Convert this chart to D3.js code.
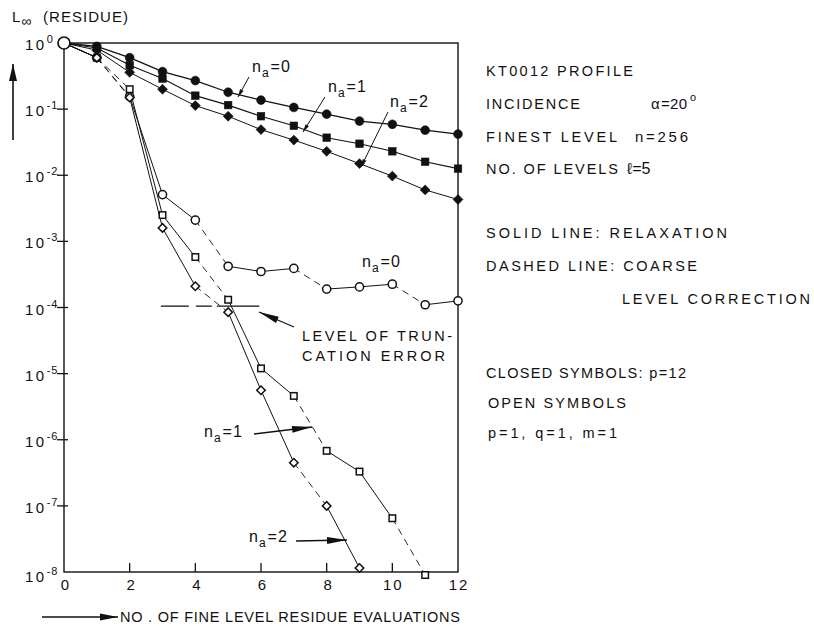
<!DOCTYPE html>
<html>
<head>
<meta charset="utf-8">
<script src="https://cdn.jsdelivr.net/npm/d3@7"></script>
<style>
  body { margin: 0; background: #fff; }
  svg { display: block; }
  text { font-family: "Liberation Sans", Arial, Helvetica, sans-serif; fill: #111; }
</style>
</head>
<body>
<svg id="chart" width="814" height="626"></svg>
<script>
// Number of fine level residue evaluations
const evaluations = [0, 1, 2, 3, 4, 5, 6, 7, 8, 9, 10, 11, 12];

// Closed symbols (p = 12): L-infinity residue per evaluation
const closedNa0 = [1, 0.89, 0.60, 0.37, 0.27, 0.18, 0.137, 0.106, 0.084, 0.066, 0.059, 0.048, 0.042];
const closedNa1 = [1, 0.84, 0.46, 0.29, 0.16, 0.115, 0.078, 0.056, 0.037, 0.030, 0.023, 0.016, 0.0126];
const closedNa2 = [1, 0.78, 0.36, 0.20, 0.113, 0.078, 0.049, 0.034, 0.023, 0.015, 0.0097, 0.006, 0.0043];

// Open symbols (p = 1, q = 1, m = 1)
const openNa0 = [1, 0.6, 0.155, 0.0051, 0.0021, 0.00042, 0.00035, 0.00039, 0.00019, 0.000205, 0.000225, 0.00011, 0.000126];
const openNa1 = [1, 0.6, 0.2, 0.0025, 0.00058, 0.000131, 1.2e-5, 4.6e-6, 6.8e-7, 3.3e-7, 6.5e-8, 0.9e-8];
const openNa2 = [1, 0.6, 0.15, 0.0016, 0.00021, 0.000085, 5.6e-6, 4.5e-7, 1.0e-7, 1.15e-8];

// Step between successive evaluations of the open-symbol runs:
// "R" = relaxation sweep (solid), "C" = coarse level correction (dashed)
const openSteps = ["R", "C", "R", "R", "C", "R", "R", "C", "R", "R", "C", "R"];

// Level of the truncation error
const truncationError = 1.05e-4;

// Axis ticks
const xTicks = [0, 2, 4, 6, 8, 10, 12];
const yTickExponents = [0, -1, -2, -3, -4, -5, -6, -7, -8];

const svg = d3.select("#chart");
const INK = "#111";

const x = d3.scaleLinear().domain([0, 12]).range([64, 458]);
const y = d3.scaleLog().domain([1e-8, 1]).range([572, 43]);

// ---------- frame ----------
const frame = svg.append("g").attr("stroke", INK).attr("fill", "none");
frame.append("rect")
  .attr("x", x(0)).attr("y", y(1))
  .attr("width", x(12) - x(0)).attr("height", y(1e-8) - y(1))
  .attr("stroke-width", 1.4);

// x ticks (inward)
frame.selectAll("line.xt")
  .data(xTicks.filter(t => t > 0 && t < 12))
  .join("line")
  .attr("x1", d => x(d)).attr("x2", d => x(d))
  .attr("y1", y(1e-8)).attr("y2", y(1e-8) - 9)
  .attr("stroke-width", 1.3);

// y ticks
frame.selectAll("line.yt")
  .data(yTickExponents.filter(e => e < 0 && e > -8))
  .join("line")
  .attr("x1", x(0) - 7).attr("x2", x(0) + 4)
  .attr("y1", e => y(Math.pow(10, e))).attr("y2", e => y(Math.pow(10, e)))
  .attr("stroke-width", 1.3);

// y tick labels: 10 with superscript exponent
yTickExponents.forEach(e => {
  const yy = y(Math.pow(10, e));
  const base = e === -8 ? yy + 10 : yy + 7;
  const t = svg.append("text")
    .attr("x", 25).attr("y", base)
    .attr("font-size", 15).attr("letter-spacing", 2.5);
  t.append("tspan").text("10");
  t.append("tspan")
    .attr("font-size", 11).attr("letter-spacing", 1)
    .attr("dy", -7)
    .text(e === 0 ? "0" : "-" + Math.abs(e));
});

// x tick labels
svg.selectAll("text.xl")
  .data(xTicks)
  .join("text")
  .attr("x", d => x(d) + 1)
  .attr("y", 590)
  .attr("text-anchor", "middle")
  .attr("font-size", 15)
  .attr("letter-spacing", d => d >= 10 ? 2 : 0)
  .text(d => d);

// ---------- arrowhead helper ----------
function arrowHead(tipX, tipY, fromX, fromY, len, halfW) {
  const a = Math.atan2(tipY - fromY, tipX - fromX);
  const bx = tipX - len * Math.cos(a), by = tipY - len * Math.sin(a);
  const px = -Math.sin(a) * halfW, py = Math.cos(a) * halfW;
  svg.append("path")
    .attr("d", `M${tipX},${tipY}L${bx + px},${by + py}L${bx - px},${by - py}Z`)
    .attr("fill", INK);
}
function arrow(x1, y1, x2, y2, len, halfW, sw) {
  svg.append("line")
    .attr("x1", x1).attr("y1", y1).attr("x2", x2).attr("y2", y2)
    .attr("stroke", INK).attr("stroke-width", sw || 1.2);
  arrowHead(x2, y2, x1, y1, len, halfW);
}

// ---------- axis titles ----------
const yTitle = svg.append("text").attr("x", 12).attr("y", 22).attr("font-size", 15);
yTitle.append("tspan").text("L");
yTitle.append("tspan").attr("font-size", 14).attr("dy", 4).attr("dx", 1).text("\u221E");
svg.append("text").attr("x", 43).attr("y", 22).attr("font-size", 15)
  .attr("textLength", 85).attr("lengthAdjust", "spacing").text("(RESIDUE)");
arrow(13, 140, 13, 64, 17, 4, 1.6);

arrow(42, 617, 118, 617, 18, 3.5, 1.6);
svg.append("text").attr("x", 120).attr("y", 622).attr("font-size", 14.5)
  .attr("textLength", 340).attr("lengthAdjust", "spacing")
  .text("NO . OF FINE LEVEL RESIDUE EVALUATIONS");

// ---------- series ----------
const toPoints = vals => vals.map((v, i) => [evaluations[i], v]);
const line = d3.line().x(d => x(d[0])).y(d => y(d[1]));

const closedSeries = [
  { vals: closedNa0, shape: "circle", w: 1.3 },
  { vals: closedNa1, shape: "square", w: 1.1 },
  { vals: closedNa2, shape: "diamond", w: 1.0 }
];
const openSeries = [
  { vals: openNa0, shape: "circle" },
  { vals: openNa1, shape: "square" },
  { vals: openNa2, shape: "diamond" }
];

const lines = svg.append("g").attr("fill", "none").attr("stroke", INK);
closedSeries.forEach(s => {
  lines.append("path").attr("d", line(toPoints(s.vals))).attr("stroke-width", s.w);
});
openSeries.forEach(s => {
  const pts = toPoints(s.vals);
  for (let i = 0; i < pts.length - 1; i++) {
    const relax = openSteps[i] === "R";
    lines.append("path")
      .attr("d", line([pts[i], pts[i + 1]]))
      .attr("stroke-width", relax ? 1.0 : 0.9)
      .attr("stroke-dasharray", relax ? null : "7,5");
  }
});

function drawMarkers(series, filled) {
  const g = svg.append("g");
  series.forEach(s => {
    const pts = toPoints(s.vals);
    const sel = g.selectAll(null).data(pts.slice(1)).join(s.shape === "circle" ? "circle" : "rect");
    if (s.shape === "circle") {
      sel.attr("cx", d => x(d[0])).attr("cy", d => y(d[1])).attr("r", filled ? 4.4 : 4.1);
    } else {
      const side = s.shape === "square" ? (filled ? 7.5 : 6.5) : (filled ? 7 : 6);
      sel.attr("x", -side / 2).attr("y", -side / 2).attr("width", side).attr("height", side)
        .attr("transform", d => `translate(${x(d[0])},${y(d[1])})` + (s.shape === "diamond" ? " rotate(45)" : ""));
    }
    sel.attr("fill", filled ? INK : "#fff")
      .attr("stroke", INK)
      .attr("stroke-width", filled ? 0.6 : 1.5);
  });
}
drawMarkers(openSeries, false);
drawMarkers(closedSeries, true);

// common starting point
svg.append("circle")
  .attr("cx", x(evaluations[0])).attr("cy", y(openNa0[0])).attr("r", 6)
  .attr("fill", "#fff").attr("stroke", INK).attr("stroke-width", 1.7);

// ---------- n_a labels ----------
function naLabel(px, py, value) {
  const t = svg.append("text").attr("x", px).attr("y", py).attr("font-size", 16).attr("letter-spacing", 1);
  t.append("tspan").text("n");
  t.append("tspan").attr("font-size", 12).attr("dy", 5).text("a");
  t.append("tspan").attr("dy", -5).attr("dx", 1).text("=" + value);
}
naLabel(252, 72, 0);
naLabel(328, 92, 1);
naLabel(390, 107, 2);
naLabel(362, 267, 0);
naLabel(204, 437, 1);
naLabel(249, 542, 2);

// pointers to the closed-symbol curves
arrow(249, 77, 238, 97, 8, 2, 1);
arrow(325, 97, 303, 132, 8, 2, 1);
arrow(388, 112, 361, 167, 8, 2, 1);

// pointers to the open-symbol curves
arrow(254, 434, 312, 427, 20, 3.5, 1.3);
arrow(296, 541, 347, 540, 20, 3.5, 1.3);

// ---------- truncation error ----------
svg.append("line")
  .attr("x1", x(2.95)).attr("x2", x(5.95))
  .attr("y1", y(truncationError)).attr("y2", y(truncationError))
  .attr("stroke", INK).attr("stroke-width", 1.3)
  .attr("stroke-dasharray", "28,7,16,5,60");
arrow(294, 327, 259, 312, 20, 3.5, 1.3);
svg.append("text").attr("x", 302).attr("y", 341).attr("font-size", 14.5)
  .attr("textLength", 150).attr("lengthAdjust", "spacing").text("LEVEL OF TRUN-");
svg.append("text").attr("x", 302).attr("y", 361).attr("font-size", 14.5)
  .attr("textLength", 143).attr("lengthAdjust", "spacing").text("CATION ERROR");

// ---------- notes on the right ----------
function note(px, py, s, len, size) {
  const t = svg.append("text").attr("x", px).attr("y", py).attr("font-size", size || 14.5).text(s);
  if (len) t.attr("textLength", len).attr("lengthAdjust", "spacing");
  return t;
}
note(486, 76, "KT0012 PROFILE", 147);
note(486, 109, "INCIDENCE", 94);
note(651, 109, "\u03B1", null, 15);
note(661, 109, "=20", 26, 15);
note(690, 101, "o", null, 11);
note(486, 142, "FINEST LEVEL", 131);
note(635, 142, "n=256", 53, 15);
note(486, 174, "NO. OF LEVELS", 132);
note(627, 174, "\u2113=5", null, 16);
note(486, 238, "SOLID LINE: RELAXATION", 241);
note(486, 271, "DASHED LINE: COARSE", 211);
note(622, 304, "LEVEL CORRECTION", 188);
note(486, 378, "CLOSED SYMBOLS: p=12", 200);
note(488, 408, "OPEN SYMBOLS", 138);
note(488, 438, "p=1, q=1,  m=1", 129);
</script>
</body>
</html>
